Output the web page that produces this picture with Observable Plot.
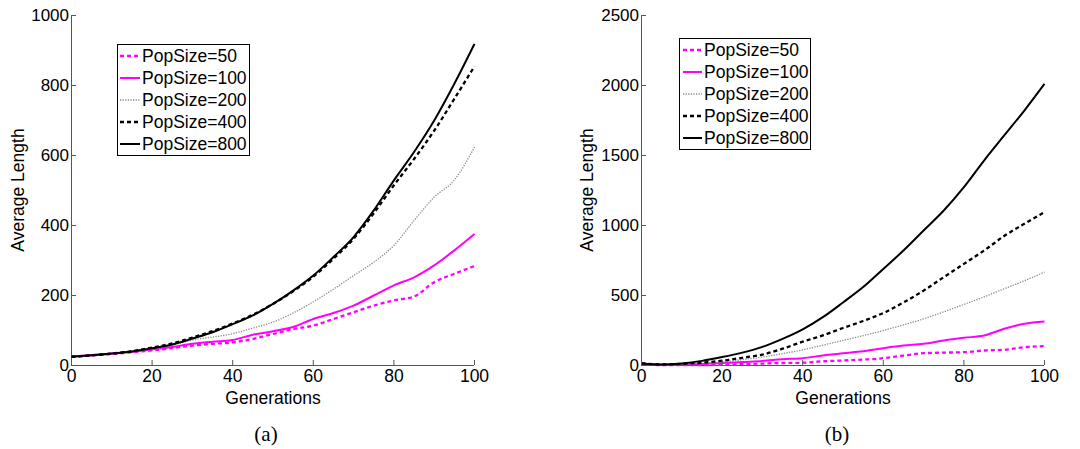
<!DOCTYPE html>
<html><head><meta charset="utf-8">
<script src="https://cdn.jsdelivr.net/npm/d3@7"></script>
<script src="https://cdn.jsdelivr.net/npm/@observablehq/plot@0.6"></script>
<style>
body{margin:0;background:#fff;}
#wrap{position:relative;width:1080px;height:449px;overflow:hidden;font-family:"Liberation Sans",Arial,sans-serif;}
.panel{position:absolute;top:0;}
.legend{position:absolute;box-sizing:border-box;border:1px solid #000;background:#fff;font-size:17.5px;color:#000;}
.row{height:22px;display:flex;align-items:center;white-space:nowrap;}
.row svg{flex:none;}
.cap{position:absolute;font-family:"Liberation Serif","Times New Roman",serif;font-size:21px;text-align:center;width:60px;line-height:24px;}
.ylab{position:absolute;font-size:17.5px;line-height:1;white-space:nowrap;color:#000;transform:translate(-50%,-50%) rotate(-90deg);}
</style></head><body><div id="wrap"></div>
<script>
// ---- data ----
const generations = [0,5,10,15,20,25,30,35,40,45,50,55,60,65,70,75,80,85,90,95,100];
const popSizes = [50,100,200,400,800];
const xTicks = [0,20,40,60,80,100];
const yTicksA = [0,200,400,600,800,1000];
const yTicksB = [0,500,1000,1500,2000,2500];
const captions = ["(a)","(b)"];
const xLabel = "Generations";
const yLabel = "Average Length";

// panel (a)
const a50  = [25,29,33,38,43,50,57,62,66,76,90,104,114,133,152,171,186,197,238,262,284];
const a100 = [25,29,34,39,46,53,62,68,73,88,98,110,133,150,171,200,229,252,286,329,376];
const a200 = [25,29,34,39,48,58,73,81,91,107,124,150,182,218,257,295,343,414,481,530,624];
const a400 = [25,29,34,41,51,63,80,98,120,145,176,212,254,305,362,435,515,590,671,762,855];
const a800 = [25,29,34,40,49,60,77,95,118,143,176,214,257,310,367,443,529,610,700,805,919];
// panel (b)
const b50  = [15,3,2,3,5,10,14,18,20,30,36,42,52,71,88,92,95,107,112,131,138];
const b100 = [15,5,7,11,17,25,32,45,52,72,88,102,124,143,155,179,198,214,262,298,314];
const b200 = [15,8,10,15,24,42,60,85,112,145,179,213,250,290,333,383,436,490,548,605,667];
const b400 = [15,8,12,20,34,55,78,120,170,215,268,318,375,450,535,631,726,821,925,1012,1095];
const b800 = [15,8,15,33,60,92,133,190,258,345,450,560,690,821,964,1107,1274,1464,1643,1821,2012];

// ---- styles ----
const styles = [
  {stroke:"#ff00ff", strokeWidth:2.3, strokeDasharray:"4,3"},
  {stroke:"#ff00ff", strokeWidth:2, strokeDasharray:null},
  {stroke:"#8c8c8c", strokeWidth:1.3, strokeDasharray:"1.3,1.3"},
  {stroke:"#000000", strokeWidth:2.3, strokeDasharray:"4,3"},
  {stroke:"#000000", strokeWidth:2, strokeDasharray:null}
];

const wrap = document.getElementById("wrap");

function makePanel(seriesList, yTicks, opts) {
  const lines = seriesList.map((vals, i) => {
    const data = generations.map((g, j) => ({gen: g, val: vals[j]}));
    const s = styles[i];
    return Plot.line(data, {x: "gen", y: "val", curve: "monotone-x", stroke: s.stroke, strokeWidth: s.strokeWidth,
      strokeDasharray: s.strokeDasharray, strokeLinecap: "butt", strokeLinejoin: "round"});
  });
  const chart = Plot.plot({
    width: 540, height: 410,
    marginLeft: opts.ml, marginRight: opts.mr, marginTop: 15, marginBottom: 45,
    style: {fontFamily: "Liberation Sans, Arial, sans-serif", fontSize: "17px", color: "#000", background: "#fff"},
    x: {domain: [0, 100]},
    y: {domain: [yTicks[0], yTicks[yTicks.length - 1]]},
    marks: [
      Plot.ruleY([yTicks[0]], {stroke: "#555", strokeWidth: 1}),
      Plot.ruleX([0], {stroke: "#555", strokeWidth: 1}),
      ...lines,
      Plot.axisX({ticks: xTicks, tickSize: -5, tickPadding: 9, stroke: "#555", fill: "#000", fontSize: 17.5,
        tickFormat: d => String(d), label: xLabel, labelAnchor: "center", labelArrow: "none", labelOffset: 38}),
      Plot.axisY({ticks: yTicks, tickSize: -5, tickPadding: 7.5, stroke: "#555", fill: "#000", fontSize: 17,
        tickFormat: d => String(d), label: null})
    ]
  });
  const div = document.createElement("div");
  div.className = "panel";
  div.style.left = opts.left + "px";
  div.appendChild(chart);
  wrap.appendChild(div);

  const yl = document.createElement("div");
  yl.className = "ylab";
  yl.textContent = yLabel;
  yl.style.left = opts.ylX + "px";
  yl.style.top = "190px";
  wrap.appendChild(yl);

  // legend
  const lg = document.createElement("div");
  lg.className = "legend";
  lg.style.left = opts.lgLeft + "px";
  lg.style.top = opts.lgTop + "px";
  lg.style.width = opts.lgWidth + "px";
  popSizes.forEach((p, i) => {
    const s = styles[i];
    const row = document.createElement("div");
    row.className = "row";
    const sw = opts.sampleW;
    row.innerHTML = `<svg width="${sw + opts.samplePad + 2}" height="22"><line x1="${opts.samplePad}" x2="${opts.samplePad + sw}" y1="11" y2="11" stroke="${s.stroke}" stroke-width="${s.strokeWidth}" ${s.strokeDasharray ? `stroke-dasharray="${s.strokeDasharray}"` : ""}/></svg><span>PopSize=${p}</span>`;
    lg.appendChild(row);
  });
  wrap.appendChild(lg);

  const cap = document.createElement("div");
  cap.className = "cap";
  cap.textContent = opts.caption;
  cap.style.left = (opts.capX - 30) + "px";
  cap.style.top = "422px";
  wrap.appendChild(cap);
}

makePanel([a50, a100, a200, a400, a800], yTicksA,
  {left: 0, ml: 71, mr: 66, ylX: 19, lgLeft: 117, lgTop: 44, lgWidth: 133, sampleW: 20, samplePad: 2, caption: captions[0], capX: 266});
makePanel([b50, b100, b200, b400, b800], yTicksB,
  {left: 540, ml: 101, mr: 36, ylX: 588, lgLeft: 679, lgTop: 38, lgWidth: 132, sampleW: 19, samplePad: 3, caption: captions[1], capX: 837});
</script>
</body></html>
